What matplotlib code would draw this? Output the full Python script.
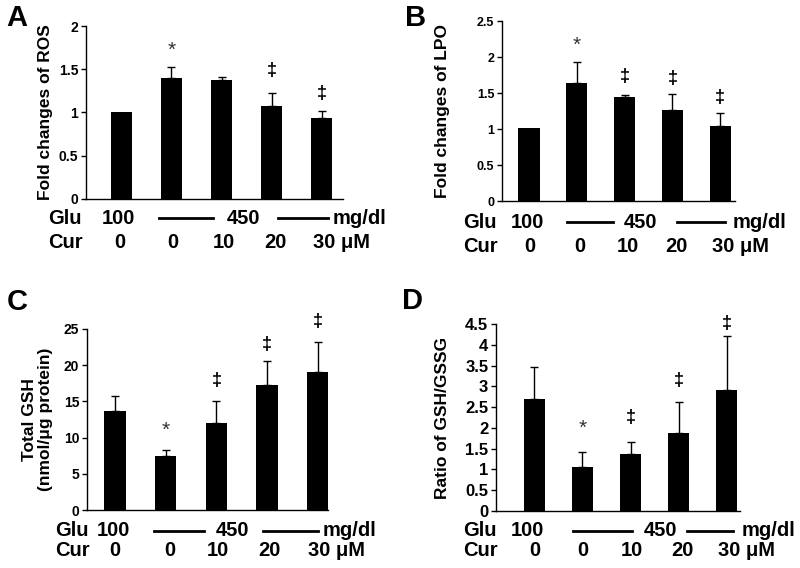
import matplotlib
matplotlib.use("Agg")
import matplotlib.pyplot as plt
from matplotlib.lines import Line2D

plt.rcParams['font.family'] = ['Liberation Sans', 'DejaVu Sans']
plt.rcParams['font.weight'] = 'bold'

W, H = 800, 568

# data (5 groups: Glu 100/Cur 0, Glu 450/Cur 0,10,20,30)
ros_mean = [1.0, 1.40, 1.37, 1.08, 0.935]
ros_err = [0, 0.125, 0.035, 0.15, 0.085]
ros_marks = ['', '*', '', '\u2021', '\u2021']
ros_mark_y = [0, 1.72, 0, 1.49, 1.22]

lpo_mean = [1.02, 1.64, 1.45, 1.27, 1.04]
lpo_err = [0, 0.29, 0.025, 0.21, 0.185]
lpo_marks = ['', '*', '\u2021', '\u2021', '\u2021']
lpo_mark_y = [0, 2.16, 1.73, 1.70, 1.44]

gsh_mean = [13.65, 7.4, 12.0, 17.3, 19.1]
gsh_err = [2.15, 0.85, 3.0, 3.25, 4.05]
gsh_marks = ['', '*', '\u2021', '\u2021', '\u2021']
gsh_mark_y = [0, 11.0, 17.9, 22.9, 26.0]

ratio_mean = [2.70, 1.06, 1.38, 1.87, 2.90]
ratio_err = [0.76, 0.36, 0.29, 0.75, 1.30]
ratio_marks = ['', '*', '\u2021', '\u2021', '\u2021']
ratio_mark_y = [0, 1.98, 2.26, 3.15, 4.5]

cur_labels = ['0', '0', '10', '20', '30 \u03bcM']


def fx(x):
    return x / W


def fy(y):
    return 1 - y / H


fig = plt.figure(figsize=(8, 5.68), dpi=100)


def panel(letter, letter_pos, box, xlim, ylim, ticks, means, errs, marks, mark_y,
          ylabel, label_x, tick_fs, bar_w, rows):
    left, right, top, bottom = box
    ax = fig.add_axes([fx(left), fy(bottom), fx(right - left), (bottom - top) / H])
    x = list(range(len(means)))
    ax.bar(x, means, width=bar_w, color='black')
    for xi, m, e in zip(x, means, errs):
        if e > 0:
            ax.errorbar(xi, m, yerr=[[0], [e]], color='black', lw=1, capsize=3,
                        capthick=1)
    for xi, s, yy in zip(x, marks, mark_y):
        if s == '*':
            ax.text(xi, yy, s, ha='center', va='center', fontsize=15,
                    fontweight='normal', color='#333333')
        elif s:
            ax.text(xi, yy, s, ha='center', va='center', fontsize=13,
                    fontweight='bold')
    ax.set_xlim(*xlim)
    ax.set_ylim(*ylim)
    ax.set_yticks(ticks)
    ax.set_yticklabels([('%g' % t) for t in ticks], fontsize=tick_fs, fontweight='bold')
    ax.set_xticks([])
    for s in ['top', 'right']:
        ax.spines[s].set_visible(False)
    for s in ['left', 'bottom']:
        ax.spines[s].set_linewidth(1)
    ax.tick_params(axis='y', direction='out', length=3.5, width=1, pad=2)
    ax.set_ylabel(ylabel, fontsize=12.5, fontweight='bold', linespacing=1.05)
    ax.yaxis.set_label_coords((label_x - left) / (right - left), 0.5)
    fig.text(fx(letter_pos[0]), fy(letter_pos[1]), letter, fontsize=21,
             fontweight='bold', va='center', ha='center')
    # Glu / Cur rows
    glu_y, cur_y, glu_x, g100, g450, mg_x, lines, cur_x = rows
    fs = 14.5
    fig.text(fx(glu_x), fy(glu_y), 'Glu', fontsize=fs, va='center')
    fig.text(fx(g100), fy(glu_y), '100', fontsize=fs, va='center', ha='center')
    fig.text(fx(g450), fy(glu_y), '450', fontsize=fs, va='center', ha='center')
    fig.text(fx(mg_x), fy(glu_y), 'mg/dl', fontsize=fs, va='center')
    for x0, x1 in lines:
        fig.add_artist(Line2D([fx(x0), fx(x1)], [fy(glu_y), fy(glu_y)],
                              color='black', lw=2))
    fig.text(fx(glu_x), fy(cur_y), 'Cur', fontsize=fs, va='center')
    for cx, lab in zip(cur_x, cur_labels):
        if lab.startswith('30'):
            fig.text(fx(cx), fy(cur_y), lab, fontsize=fs, va='center', ha='left')
        else:
            fig.text(fx(cx), fy(cur_y), lab, fontsize=fs, va='center', ha='center')
    return ax


panel('A', (17, 18), (86, 343, 26, 199), (-0.70, 4.42), (0, 2), [0, 0.5, 1, 1.5, 2],
      ros_mean, ros_err, ros_marks, ros_mark_y, 'Fold changes of ROS', 53, 10, 0.42,
      (218, 242, 48, 118, 243, 333, [(159, 213), (278, 328)],
       [120, 173, 224, 275, 313]))

panel('B', (416, 18), (502, 735, 21, 201), (-0.565, 4.31), (0, 2.5),
      [0, 0.5, 1, 1.5, 2, 2.5],
      lpo_mean, lpo_err, lpo_marks, lpo_mark_y, 'Fold changes of LPO', 450, 9, 0.44,
      (222, 247, 463, 527, 640, 733, [(567, 613), (677, 725)],
       [530, 580, 628, 676, 712]))

panel('C', (17, 302), (87, 328, 329, 510), (-0.55, 4.2), (0, 25),
      [0, 5, 10, 15, 20, 25],
      gsh_mean, gsh_err, gsh_marks, gsh_mark_y, 'Total GSH\n(nmol/\u03bcg protein)', 53,
      10, 0.42,
      (531, 551, 55, 113, 233, 323, [(154, 204), (263, 318)],
       [115, 170, 218, 269, 308]))

panel('D', (413, 301), (496, 740, 324, 511), (-0.79, 4.27), (0, 4.5),
      [0, 0.5, 1, 1.5, 2, 2.5, 3, 3.5, 4, 4.5],
      ratio_mean, ratio_err, ratio_marks, ratio_mark_y, 'Ratio of GSH/GSSG', 450, 12,
      0.435,
      (531, 551, 463, 527, 660, 742, [(573, 632), (687, 733)],
       [535, 583, 632, 682, 718]))

fig.savefig('out.png', dpi=100)
